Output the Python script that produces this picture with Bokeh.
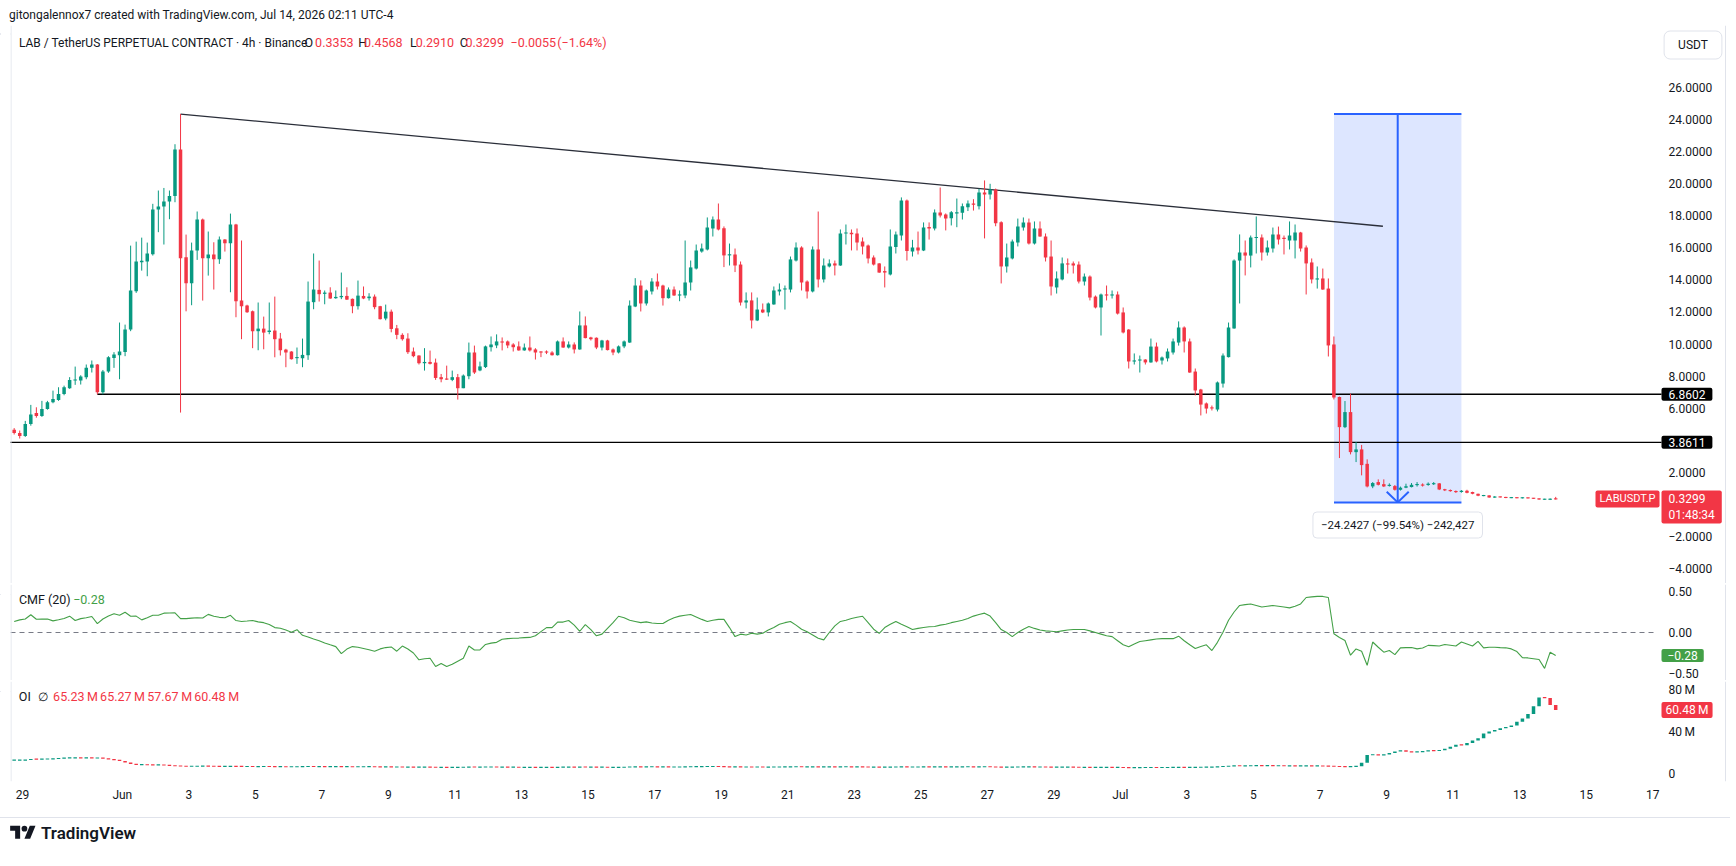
import numpy as np
from bokeh.plotting import figure
from bokeh.layouts import column
from bokeh.models import Range1d, FixedTicker, Label, Span, Div
from bokeh.embed import file_html
from bokeh.resources import INLINE

# ---------------- data (4h candles, LAB/USDT perp) ----------------
opens = [
    4.65, 4.45, 4.25, 5.0, 5.7, 5.5, 5.95, 6.37, 6.51, 6.88,
    7.24, 7.72, 7.72, 7.93, 8.51, 8.72, 6.99, 8.28, 9.13, 9.3,
    9.5, 10.9, 13.3, 15.1, 15.15, 15.6, 18.39, 18.58, 18.89, 19.24,
    22.14, 15.42, 13.79, 15.83, 17.77, 15.35, 15.58, 15.29, 16.52, 16.29,
    17.46, 12.71, 12.4, 12.04, 10.8, 10.96, 10.75, 10.84, 10.34, 9.65,
    9.53, 9.13, 9.11, 9.3, 12.61, 13.38, 13.13, 13.21, 12.86, 12.92,
    13.0, 12.82, 12.36, 13.0, 12.86, 12.96, 12.36, 11.59, 12.02, 10.98,
    10.57, 10.34, 9.53, 9.28, 8.8, 8.88, 8.84, 7.93, 7.84, 7.76,
    7.93, 7.24, 7.99, 9.47, 8.35, 8.56, 9.8, 9.91, 10.16, 10.16,
    9.97, 9.85, 9.6, 9.78, 9.66, 9.51, 9.53, 9.47, 9.3, 10.16,
    9.78, 9.97, 9.66, 11.16, 10.41, 10.39, 9.78, 10.22, 9.66, 9.47,
    9.85, 10.09, 12.34, 13.65, 12.53, 13.28, 13.9, 13.65, 12.86, 13.4,
    13.03, 13.03, 13.84, 14.71, 15.78, 15.9, 17.21, 17.77, 17.23, 15.53,
    15.59, 14.96, 12.59, 12.72, 11.47, 12.15, 11.97, 12.47, 13.28, 13.4,
    13.4, 15.21, 16.03, 13.9, 13.28, 15.9, 14.03, 14.84, 15.03, 14.9,
    16.9, 16.95, 16.9, 16.4, 16.15, 15.4, 15.03, 14.55, 14.34, 16.05,
    16.77, 18.96, 15.78, 16.03, 15.84, 17.3, 17.21, 18.21, 18.08, 17.85,
    18.15, 18.19, 18.54, 18.77, 18.6, 19.46, 19.33, 19.64, 17.6, 14.84,
    15.34, 16.34, 17.27, 17.58, 16.27, 17.21, 16.71, 15.46, 13.53, 14.03,
    15.03, 15.03, 14.96, 13.9, 14.21, 12.96, 12.28, 13.09, 13.03, 13.09,
    11.97, 10.9, 8.91, 8.97, 9.03, 8.85, 9.84, 8.97, 9.1, 9.47,
    10.09, 11.03, 10.16, 8.28, 7.16, 6.29, 6.03, 5.91, 7.53, 9.18,
    10.97, 15.21, 15.71, 15.52, 16.62, 16.65, 15.71, 15.96, 16.84, 16.62,
    16.46, 16.46, 16.96, 16.02, 15.09, 14.03, 14.09, 13.46, 9.97, 6.69,
    4.81, 5.75, 3.25, 3.42, 2.52, 1.11, 1.38, 1.25, 1.15, 1.13,
    0.9, 1.03, 1.07, 1.2, 1.22, 1.2, 1.26, 1.3, 0.92, 0.88,
    0.82, 0.76, 0.84, 0.76, 0.65, 0.53, 0.55, 0.42, 0.47, 0.44,
    0.4, 0.42, 0.39, 0.41, 0.38, 0.36, 0.3, 0.28, 0.3353,
]
highs = [
    4.75, 4.6, 5.2, 6.2, 6.05, 6.45, 6.45, 7.09, 7.3, 7.4,
    7.93, 8.59, 8.05, 8.72, 8.97, 8.75, 8.38, 9.24, 9.49, 11.34,
    11.21, 16.14, 16.39, 16.64, 16.33, 18.75, 19.58, 19.74, 19.58, 22.47,
    24.355, 16.83, 16.33, 18.27, 17.83, 17.02, 16.35, 16.71, 16.55, 18.14,
    17.5, 16.46, 12.45, 12.09, 12.59, 11.71, 12.59, 12.96, 10.69, 9.7,
    9.55, 9.78, 10.34, 13.9, 15.65, 15.21, 13.34, 13.54, 13.34, 14.46,
    13.54, 12.84, 13.96, 13.59, 13.17, 13.09, 12.38, 12.46, 12.15, 11.19,
    10.67, 10.67, 9.78, 9.3, 9.74, 9.59, 9.09, 8.13, 8.65, 8.34,
    8.13, 8.1, 10.09, 9.9, 8.9, 9.9, 10.47, 10.6, 10.41, 10.22,
    10.05, 10.16, 10.03, 10.47, 9.74, 9.55, 9.6, 9.55, 10.22, 10.41,
    10.16, 10.1, 12.03, 11.72, 10.45, 10.41, 10.26, 10.26, 9.72, 9.91,
    10.22, 12.72, 14.11, 13.97, 13.4, 14.11, 14.4, 13.7, 13.53, 13.59,
    13.34, 16.46, 15.21, 16.21, 16.27, 17.9, 17.96, 18.77, 17.34, 16.27,
    15.96, 15.15, 13.22, 13.22, 12.9, 12.53, 12.59, 13.59, 13.78, 13.65,
    15.46, 16.34, 16.1, 13.97, 16.09, 18.27, 15.34, 15.28, 15.21, 17.15,
    17.46, 17.15, 17.21, 16.65, 16.21, 15.53, 15.05, 14.84, 17.15, 17.02,
    19.15, 19.02, 16.5, 17.02, 17.59, 17.59, 18.4, 19.77, 18.15, 18.3,
    19.08, 18.77, 18.96, 19.04, 19.69, 20.21, 20.0, 19.7, 17.66, 16.27,
    16.52, 17.83, 17.9, 17.83, 17.65, 17.65, 16.9, 16.46, 14.53, 15.4,
    15.34, 15.15, 15.15, 14.4, 14.28, 13.03, 13.15, 13.65, 13.34, 13.28,
    12.28, 10.93, 9.41, 9.28, 9.05, 10.34, 10.09, 9.22, 9.72, 10.34,
    11.41, 11.1, 10.34, 8.47, 7.2, 6.35, 6.16, 7.66, 9.41, 11.34,
    15.28, 16.84, 16.46, 16.77, 17.96, 16.84, 16.46, 17.27, 17.33, 16.77,
    17.65, 17.46, 17.0, 16.15, 15.34, 14.84, 14.71, 14.09, 10.47, 6.72,
    6.44, 6.9, 3.88, 3.7, 2.8, 1.38, 1.55, 1.55, 1.3, 1.2,
    1.1, 1.28, 1.32, 1.38, 1.3, 1.36, 1.38, 1.32, 0.96, 0.92,
    0.86, 0.88, 0.9, 0.78, 0.66, 0.58, 0.56, 0.5, 0.48, 0.46,
    0.45, 0.43, 0.43, 0.42, 0.39, 0.37, 0.34, 0.36, 0.4568,
]
lows = [
    4.35, 4.1, 4.2, 4.9, 5.4, 5.45, 5.9, 6.3, 6.45, 6.8,
    7.2, 7.45, 7.47, 7.8, 8.22, 6.86, 6.86, 8.2, 8.51, 7.8,
    9.24, 10.8, 13.19, 14.58, 14.23, 15.52, 16.98, 16.21, 17.79, 18.85,
    5.72, 12.04, 12.42, 15.25, 12.71, 14.27, 13.4, 15.0, 15.77, 13.23,
    11.67, 10.3, 11.94, 9.74, 9.61, 9.67, 10.61, 9.17, 9.28, 8.55,
    9.03, 8.76, 8.55, 9.01, 12.17, 12.65, 12.48, 12.82, 12.82, 12.8,
    12.75, 11.92, 12.15, 12.8, 12.71, 12.17, 11.53, 11.48, 10.73, 10.3,
    10.21, 9.38, 9.17, 8.72, 8.34, 8.72, 7.76, 7.61, 7.76, 7.68,
    6.53, 7.24, 7.8, 8.13, 8.3, 8.5, 9.53, 9.74, 9.6, 9.74,
    9.53, 9.58, 9.58, 9.53, 9.03, 9.18, 9.37, 9.28, 9.28, 9.76,
    9.72, 9.41, 9.64, 10.35, 10.22, 9.68, 9.6, 9.6, 9.3, 9.41,
    9.74, 10.07, 12.3, 12.03, 12.4, 13.09, 13.4, 12.4, 12.84, 13.0,
    12.67, 12.86, 13.34, 14.65, 15.7, 15.84, 16.71, 17.09, 14.8, 14.9,
    14.49, 12.4, 12.22, 10.97, 11.43, 11.93, 11.72, 12.45, 13.03, 12.15,
    13.22, 15.15, 13.34, 12.84, 13.22, 13.53, 13.84, 14.78, 14.28, 14.88,
    16.21, 15.84, 15.84, 15.59, 15.03, 14.9, 14.44, 13.53, 14.28, 15.65,
    16.46, 15.21, 15.46, 15.59, 15.8, 16.52, 17.09, 17.9, 17.09, 17.4,
    17.29, 17.77, 18.3, 18.33, 18.4, 16.59, 19.02, 17.35, 13.78, 14.46,
    15.28, 16.09, 17.08, 16.21, 16.21, 16.69, 15.15, 13.03, 13.15, 13.97,
    14.4, 14.4, 13.78, 13.65, 12.72, 12.22, 10.53, 12.72, 12.84, 11.84,
    10.66, 8.47, 8.72, 8.22, 8.72, 8.83, 8.85, 8.72, 8.91, 9.34,
    9.9, 9.47, 8.2, 6.79, 5.54, 5.66, 5.85, 5.79, 7.28, 9.16,
    10.95, 12.53, 14.28, 14.78, 15.65, 15.21, 15.52, 15.71, 16.21, 15.59,
    15.9, 15.34, 15.77, 13.09, 13.78, 13.46, 13.38, 9.22, 6.54, 2.88,
    4.75, 3.11, 2.63, 1.8, 1.05, 1.0, 1.17, 1.07, 1.1, 0.85,
    0.85, 1.0, 1.05, 1.1, 1.1, 1.15, 1.2, 0.88, 0.82, 0.78,
    0.7, 0.72, 0.68, 0.62, 0.5, 0.5, 0.4, 0.4, 0.42, 0.38,
    0.38, 0.37, 0.36, 0.36, 0.34, 0.27, 0.28, 0.26, 0.291,
]
closes = [
    4.45, 4.25, 5.0, 5.6, 5.5, 5.95, 6.37, 6.57, 6.88, 7.3,
    7.76, 7.78, 7.97, 8.51, 8.72, 6.99, 8.28, 9.17, 9.34, 9.53,
    10.9, 13.34, 15.15, 15.2, 15.65, 18.39, 18.58, 18.89, 19.24, 22.14,
    15.35, 13.79, 15.83, 17.77, 15.35, 15.58, 15.29, 16.52, 16.29, 17.46,
    12.67, 12.36, 11.98, 10.8, 10.96, 10.71, 10.84, 10.3, 9.61, 9.47,
    9.05, 9.17, 9.32, 12.65, 13.4, 13.11, 13.21, 12.84, 12.94, 13.0,
    12.77, 12.36, 13.02, 12.84, 12.96, 12.3, 11.55, 12.02, 10.94, 10.57,
    10.3, 9.49, 9.24, 8.8, 8.88, 8.76, 7.88, 7.8, 7.78, 7.93,
    7.24, 8.03, 9.47, 8.22, 8.6, 9.85, 9.97, 10.16, 10.09, 9.91,
    9.8, 9.6, 9.78, 9.6, 9.47, 9.49, 9.47, 9.3, 10.16, 9.78,
    9.97, 9.66, 11.16, 10.37, 10.3, 9.78, 10.22, 9.62, 9.47, 9.85,
    10.16, 12.4, 13.65, 12.53, 13.34, 13.9, 13.59, 12.86, 13.4, 13.03,
    13.09, 13.84, 14.78, 15.84, 15.96, 17.27, 17.77, 17.15, 15.53, 15.6,
    14.9, 12.59, 12.72, 11.47, 12.15, 11.97, 12.53, 13.34, 13.4, 13.47,
    15.28, 16.03, 13.84, 13.28, 15.9, 14.03, 14.9, 15.03, 14.9, 16.9,
    16.95, 16.85, 16.34, 16.09, 15.34, 14.96, 14.46, 14.46, 16.09, 16.84,
    18.96, 15.8, 16.03, 15.84, 17.27, 17.21, 18.21, 18.02, 17.83, 18.23,
    18.23, 18.6, 18.77, 18.69, 19.46, 19.33, 19.64, 17.54, 14.84, 15.4,
    16.4, 17.33, 17.58, 16.27, 17.21, 16.71, 15.4, 13.59, 14.09, 15.03,
    14.96, 14.9, 13.9, 14.21, 12.9, 12.28, 13.09, 13.03, 13.09, 11.9,
    10.72, 8.91, 8.97, 9.03, 8.85, 9.84, 8.91, 9.16, 9.53, 10.16,
    11.03, 10.16, 8.22, 7.1, 6.22, 5.97, 5.99, 7.6, 9.28, 11.03,
    15.21, 15.71, 15.52, 16.65, 16.68, 15.71, 16.02, 16.84, 16.52, 16.56,
    16.77, 16.96, 15.96, 15.03, 14.03, 14.09, 13.4, 9.91, 6.66, 4.81,
    5.75, 3.25, 3.42, 2.44, 1.11, 1.32, 1.21, 1.11, 1.2, 0.9,
    1.03, 1.12, 1.21, 1.25, 1.17, 1.28, 1.3, 0.92, 0.88, 0.82,
    0.76, 0.84, 0.71, 0.65, 0.53, 0.55, 0.42, 0.47, 0.44, 0.4,
    0.42, 0.39, 0.41, 0.38, 0.36, 0.3, 0.32, 0.34, 0.3299,
]
cmf_values = [
    0.135, 0.154, 0.165, 0.217, 0.161, 0.163, 0.165, 0.142, 0.155, 0.17,
    0.199, 0.146, 0.169, 0.18, 0.195, 0.109, 0.165, 0.2, 0.228, 0.21,
    0.247, 0.199, 0.2, 0.154, 0.18, 0.21, 0.21, 0.236, 0.238, 0.24,
    0.169, 0.169, 0.175, 0.18, 0.176, 0.221, 0.199, 0.185, 0.18, 0.21,
    0.146, 0.135, 0.14, 0.146, 0.13, 0.12, 0.097, 0.06, 0.052, 0.03,
    0.004, 0.034, -0.034, -0.055, -0.079, -0.1, -0.127, -0.15, -0.172, -0.258,
    -0.202, -0.172, -0.18, -0.195, -0.21, -0.228, -0.2, -0.184, -0.176, -0.228,
    -0.165, -0.202, -0.25, -0.333, -0.32, -0.314, -0.415, -0.378, -0.415, -0.388,
    -0.35, -0.314, -0.165, -0.213, -0.213, -0.146, -0.13, -0.12, -0.082, -0.075,
    -0.071, -0.068, -0.062, -0.06, -0.04, 0.011, 0.06, 0.06, 0.127, 0.127,
    0.146, 0.09, 0.015, 0.097, 0.034, -0.04, -0.02, 0.05, 0.12, 0.198,
    0.18, 0.15, 0.135, 0.12, 0.13, 0.115, 0.11, 0.11, 0.15, 0.18,
    0.2, 0.21, 0.22, 0.19, 0.16, 0.135, 0.15, 0.16, 0.16, 0.06,
    -0.05, -0.02, -0.03, -0.01, -0.02, -0.01, 0.03, 0.06, 0.1, 0.12,
    0.135, 0.09, 0.04, 0.01, -0.03, -0.07, -0.09, 0.0, 0.08, 0.135,
    0.15, 0.17, 0.185, 0.198, 0.12, 0.04, -0.01, 0.06, 0.1, 0.135,
    0.1, 0.07, 0.036, 0.05, 0.06, 0.07, 0.073, 0.09, 0.1, 0.12,
    0.135, 0.15, 0.17, 0.2, 0.22, 0.236, 0.2, 0.12, 0.036, 0.0,
    -0.05, 0.0, 0.04, 0.073, 0.05, 0.03, 0.02, 0.015, 0.01, 0.02,
    0.03, 0.036, 0.036, 0.036, 0.02, 0.0, -0.02, -0.04, -0.05, -0.1,
    -0.15, -0.175, -0.14, -0.11, -0.1, -0.09, -0.08, -0.075, -0.075, -0.075,
    -0.045, -0.1, -0.15, -0.195, -0.17, -0.15, -0.22, -0.12, 0.004, 0.15,
    0.25, 0.33, 0.34, 0.348, 0.33, 0.31, 0.32, 0.33, 0.32, 0.31,
    0.30, 0.32, 0.348, 0.427, 0.435, 0.44, 0.44, 0.427, -0.015, -0.06,
    -0.097, -0.277, -0.2, -0.228, -0.4, -0.116, -0.18, -0.24, -0.22, -0.27,
    -0.187, -0.185, -0.184, -0.2, -0.19, -0.157, -0.16, -0.165, -0.146, -0.155,
    -0.165, -0.116, -0.14, -0.165, -0.109, -0.187, -0.18, -0.18, -0.185, -0.187,
    -0.2, -0.232, -0.307, -0.31, -0.32, -0.33, -0.438, -0.24, -0.28,
]
oi_millions = [
    12.7, 12.7, 12.9, 13.7, 13.6, 13.7, 13.9, 14.0, 14.5, 14.9,
    14.9, 15.0, 14.9, 14.9, 14.8, 14.8, 14.4, 13.5, 13.0, 12.0,
    10.5, 9.0, 8.4, 8.4, 8.3, 8.2, 8.2, 8.0, 7.5, 7.2,
    7.0, 6.9, 6.9, 7.0, 7.1, 7.0, 6.9, 6.8, 6.8, 6.9,
    6.8, 6.7, 6.7, 6.6, 6.6, 6.7, 6.6, 6.5, 6.5, 6.4,
    6.4, 6.5, 6.6, 6.7, 6.6, 6.6, 6.5, 6.5, 6.6, 6.5,
    6.5, 6.4, 6.4, 6.5, 6.5, 6.4, 6.3, 6.3, 6.2, 6.2,
    6.1, 6.1, 6.0, 6.0, 6.1, 6.0, 5.9, 5.9, 5.8, 5.9,
    5.9, 6.0, 6.2, 6.1, 6.1, 6.2, 6.2, 6.1, 6.1, 6.0,
    6.0, 5.9, 5.9, 5.9, 5.8, 5.8, 5.9, 5.8, 6.0, 6.0,
    6.1, 6.0, 6.2, 6.1, 6.1, 6.0, 6.0, 5.9, 5.9, 5.9,
    6.0, 6.3, 6.4, 6.3, 6.4, 6.4, 6.3, 6.3, 6.2, 6.2,
    6.2, 6.4, 6.5, 6.6, 6.6, 6.7, 6.7, 6.6, 6.4, 6.3,
    6.3, 6.2, 6.2, 6.1, 6.2, 6.1, 6.1, 6.2, 6.2, 6.3,
    6.4, 6.5, 6.3, 6.3, 6.4, 6.3, 6.3, 6.3, 6.2, 6.4,
    6.4, 6.3, 6.3, 6.2, 6.1, 6.1, 6.0, 6.0, 6.1, 6.2,
    6.4, 6.2, 6.2, 6.2, 6.3, 6.2, 6.3, 6.3, 6.2, 6.3,
    6.3, 6.4, 6.4, 6.3, 6.4, 6.5, 6.3, 6.1, 6.0, 6.0,
    6.1, 6.2, 6.3, 6.3, 6.2, 6.2, 6.1, 6.0, 6.0, 6.1,
    6.1, 6.0, 5.9, 5.9, 5.8, 5.8, 5.9, 5.9, 5.8, 5.8,
    5.7, 5.6, 5.6, 5.7, 5.7, 5.8, 5.7, 5.7, 5.8, 5.9,
    5.9, 5.8, 5.8, 5.9, 6.0, 6.0, 6.2, 6.5, 6.8, 7.0,
    7.4, 7.3, 7.3, 7.4, 7.5, 7.4, 7.5, 7.4, 7.4, 7.3,
    7.3, 7.2, 7.2, 7.3, 7.2, 7.2, 7.1, 7.0, 6.8, 6.6,
    6.5, 6.6, 7.0, 10.2, 17.7, 18.0, 17.6, 18.0, 19.5, 21.0,
    22.2, 20.8, 20.5, 20.6, 21.0, 22.0, 21.6, 22.2, 23.5, 25.5,
    27.5, 27.0, 29.0, 31.5, 33.5, 38.0, 40.0, 41.5, 43.0, 44.3,
    45.6, 49.3, 52.4, 56.7, 64.0, 72.5, 71.9, 65.23, 60.48,
]
oi_legend_values = ["65.23\u2009M", "65.27\u2009M", "57.67\u2009M", "60.48\u2009M"]

# drawings on the price pane
trend_days = [4.75, 40.89]
trend_prices = [24.355, 17.35]
level_prices = [6.8602, 3.8611]
level_start_days = [2.25, -1.0]
measure_days = [39.42, 43.25]
measure_prices = [24.355, 0.1123]
measure_text = "\u221224.2427 (\u221299.54%) \u2212242,427"

# axes
x_tick_days = [0, 3, 5, 7, 9, 11, 13, 15, 17, 19, 21, 23, 25, 27, 29, 31,
               33, 35, 37, 39, 41, 43, 45, 47, 49]
x_tick_labels = ["29", "Jun", "3", "5", "7", "9", "11", "13", "15", "17", "19", "21",
                 "23", "25", "27", "29", "Jul", "3", "5", "7", "9", "11", "13", "15", "17"]
price_ticks = [-4, -2, 0, 2, 4, 6, 8, 10, 12, 14, 16, 18, 20, 22, 24, 26]
price_tick_labels = ["\u22124.0000", "\u22122.0000", "0.0000", "2.0000", "4.0000", "6.0000",
                     "8.0000", "10.0000", "12.0000", "14.0000", "16.0000", "18.0000",
                     "20.0000", "22.0000", "24.0000", "26.0000"]
cmf_ticks = [-0.5, 0, 0.5]
cmf_tick_labels = ["\u22120.50", "0.00", "0.50"]
oi_ticks = [0, 40, 80]
oi_tick_labels = ["0", "40\u2009M", "80\u2009M"]

# ---------------- style ----------------
GREEN = "#089981"
RED = "#f23645"
INK = "#131722"
CMF_GREEN = "#43a047"
LINE = "#e0e3eb"
FONT = "Roboto"
W = 1730          # frames run from x=10 to the right edge
AXIS_LABEL_X = 1668


# pixel -> data helpers, used only to place annotations and set the ranges
def day_at(px):
    return (px - 22.0) / 33.27


def price_at(py):
    return (503.7 - py) / 16.02


def cmf_at(py):
    return (632.0 - py) / 82.0


def oi_at(py):
    return (773.0 - py) * (40.0 / 42.0)


n = len(closes)
t = np.arange(n) / 6.0 - 0.25
o = np.array(opens)
h = np.array(highs)
lo = np.array(lows)
c = np.array(closes)
col = np.where(c >= o, GREEN, RED)


def bodies(a, b, minh):
    bot = np.minimum(a, b)
    top = np.maximum(a, b)
    mid = (top + bot) / 2
    thin = (top - bot) < minh
    return np.where(thin, mid - minh / 2, bot), np.where(thin, mid + minh / 2, top)


xr = Range1d(day_at(10), day_at(W))


def make_fig(height, y0, y1, bottom=0):
    f = figure(width=W, height=height, x_range=xr, y_range=Range1d(y0, y1),
               output_backend="svg", toolbar_location=None, title=None,
               x_axis_location="below" if bottom else None, y_axis_location="right",
               min_border_left=10, min_border_right=0, min_border_top=0,
               min_border_bottom=bottom)
    f.grid.visible = False
    f.outline_line_color = None
    f.background_fill_color = "white"
    f.border_fill_color = "white"
    f.add_layout(Span(location=day_at(1725), dimension="height", line_color=LINE, line_width=1))
    f.add_layout(Span(location=day_at(10.5), dimension="height", line_color=LINE, line_width=1))
    return f


def style_axis(ax, ticks, labels, standoff):
    ax.ticker = FixedTicker(ticks=ticks)
    ax.major_label_overrides = {tk: lb for tk, lb in zip(ticks, labels)}
    ax.axis_line_color = None
    ax.major_tick_line_color = None
    ax.minor_tick_line_color = None
    ax.major_tick_out = 0
    ax.major_tick_in = 0
    ax.minor_tick_out = 0
    ax.minor_tick_in = 0
    ax.major_label_standoff = standoff
    ax.major_label_text_font = FONT
    ax.major_label_text_font_size = "12px"
    ax.major_label_text_color = INK


def lab(fig, x, y, text, color=INK, size="12px", align="left", baseline="middle",
        bg=None, pad=0, border=None, radius=0, style="normal"):
    # pad = (horizontal, vertical)
    kw = dict(x=x, y=y, text=text, text_color=color, text_font=FONT, text_font_size=size,
              text_align=align, text_baseline=baseline, text_font_style=style)
    if bg is not None:
        kw.update(background_fill_color=bg, padding=pad, border_radius=radius)
    if border is not None:
        kw.update(border_line_color=border)
    fig.add_layout(Label(**kw))


Y_STANDOFF = AXIS_LABEL_X - W   # labels sit inside the price-scale strip

# ---------------- price pane ----------------
pm = make_fig(558, price_at(583), price_at(25))
style_axis(pm.yaxis[0], price_ticks, price_tick_labels, Y_STANDOFF)

# measure box (under candles)
pm.quad(left=[measure_days[0]], right=[measure_days[1]], top=[measure_prices[0]],
        bottom=[measure_prices[1]], fill_color="#2962ff", fill_alpha=0.16, line_color=None)
pm.segment(x0=[measure_days[0]] * 2, x1=[measure_days[1]] * 2, y0=measure_prices,
           y1=measure_prices, line_color="#2962ff", line_width=2)
mmid = (measure_days[0] + measure_days[1]) / 2
pm.segment(x0=[mmid], x1=[mmid], y0=[measure_prices[0]], y1=[measure_prices[1]],
           line_color="#2962ff", line_width=2)
adx, ady = 11 / 33.27, 10.7 / 16.02
pm.line([mmid - adx, mmid, mmid + adx],
        [measure_prices[1] + ady, measure_prices[1], measure_prices[1] + ady],
        line_color="#2962ff", line_width=2)

# horizontal levels and trendline
scale_edge = day_at(1661)
pm.segment(x0=level_start_days, x1=[scale_edge] * 2, y0=level_prices, y1=level_prices,
           line_color="#000000", line_width=1.4)
pm.line(trend_days, trend_prices, line_color="#2a2e39", line_width=1.3)

# candles
pm.segment(x0=t, x1=t, y0=lo, y1=h, line_color=col, line_width=1)
b0, b1 = bodies(o, c, 0.07)
pm.vbar(x=t, width=0.105, bottom=b0, top=b1, fill_color=col, line_color=None)

# legend
yl = price_at(42)
lab(pm, day_at(18.4), yl, "LAB / TetherUS PERPETUAL CONTRACT \u00b7 4h \u00b7 Binance", size="12px")
legend_parts = [("O", INK, 304), (f"{opens[-1]:.4f}", RED, 314.6),
                ("H", INK, 357.8), (f"{highs[-1]:.4f}", RED, 363.6),
                ("L", INK, 409.5), (f"{lows[-1]:.4f}", RED, 415.2),
                ("C", INK, 459.2), (f"{closes[-1]:.4f}", RED, 465),
                ("\u22120.0055", RED, 510), ("(\u22121.64%)", RED, 556.8)]
for txt, cl, px in legend_parts:
    lab(pm, day_at(px), yl, txt, color=cl, size="12.5px")

# measure label
lab(pm, mmid, price_at(524.5), measure_text, size="11.5px", align="center",
    bg="white", pad=(8, 6), border=LINE, radius=4)

# price-scale tags
lab(pm, day_at(1692.5), price_at(44.5), "USDT", align="center", bg="white",
    pad=(14, 7), border=LINE, radius=6)
for lv in level_prices:
    lab(pm, day_at(1661), lv, f"{lv:.4f}", color="white", bg="#000000", pad=(7, 2), radius=2)
lab(pm, day_at(1595), closes[-1], "LABUSDT.P", color="white", size="11px", bg=RED,
    pad=(4, 2), radius=2)
lab(pm, day_at(1661), price_at(506.5), f"{closes[-1]:.4f}\n01:48:34", color="white",
    bg=RED, pad=(7, 1), radius=2)

# ---------------- CMF pane ----------------
pc = make_fig(96, cmf_at(680), cmf_at(584))
style_axis(pc.yaxis[0], cmf_ticks, cmf_tick_labels, Y_STANDOFF)
pc.segment(x0=[day_at(10)], x1=[day_at(1657)], y0=[0], y1=[0], line_color="#787b86",
           line_dash="5 4", line_width=1)
pc.line(t, cmf_values, line_color=CMF_GREEN, line_width=1.1)
cmf_txt = f"\u2212{abs(cmf_values[-1]):.2f}"
lab(pc, day_at(18.4), cmf_at(599), "CMF (20)", size="12.5px")
lab(pc, day_at(72.7), cmf_at(599), cmf_txt, color=CMF_GREEN, size="12.5px")
lab(pc, day_at(1661), cmf_values[-1], cmf_txt, color="white", bg=CMF_GREEN, pad=(6, 2), radius=2)

# ---------------- OI pane ----------------
po = make_fig(125, oi_at(781), oi_at(681), bottom=25)
style_axis(po.yaxis[0], oi_ticks, oi_tick_labels, Y_STANDOFF)
style_axis(po.xaxis[0], x_tick_days, x_tick_labels, 6)
oi = np.array(oi_millions)
oi_open = np.concatenate([[oi[0]], oi[:-1]])
oi_col = np.where(oi >= oi_open, GREEN, RED)
q0, q1 = bodies(oi_open, oi, 1.1)
po.vbar(x=t, width=0.105, bottom=q0, top=q1, fill_color=oi_col, line_color=None)
yo = oi_at(696)
lab(po, day_at(18.3), yo, "OI", size="12.5px")
lab(po, day_at(37), yo, "\u2205", size="12px")
for txt, px in zip(oi_legend_values, [52.6, 99.6, 146.7, 193.7]):
    lab(po, day_at(px), yo, txt, color=RED, size="12.5px")
lab(po, day_at(1661), oi_millions[-1], f"{oi_millions[-1]:.2f}\u2009M", color="white",
    bg=RED, pad=(4, 1), radius=2)


# ---------------- page ----------------
def sep(hpx, color=LINE):
    return Div(text=f'<div style="width:{W}px;height:{hpx}px;background:{color}"></div>',
               width=W, height=hpx, margin=0)


header = Div(text='<div style="font:12px Roboto;color:#131722;line-height:14px;'
                  'padding:8px 0 0 9px;white-space:nowrap">'
                  'gitongalennox7 created with TradingView.com, Jul 14, 2026 02:11 UTC-4</div>',
             width=W, height=23, margin=0)

logo_svg = ('<svg width="26" height="20" viewBox="0 0 36 28" style="display:block">'
            '<path d="M14 22H7V11H0V4h14v18zM28 22h-8l7.5-18h8L28 22z" fill="#131722"/>'
            '<circle cx="20" cy="8" r="4" fill="#131722"/></svg>')
footer = Div(text='<div style="display:flex;align-items:center;height:52px;padding-left:10px">'
                  + logo_svg +
                  '<span style="font:600 17px Roboto;color:#131722;margin-left:5px">'
                  'TradingView</span></div>',
             width=W, height=55, margin=0)

page = column(header, sep(2), pm, sep(1), pc, sep(1), po, sep(1), footer, spacing=0)

open("out.html", "w").write(file_html(page, INLINE, title="LABUSDT.P"))
